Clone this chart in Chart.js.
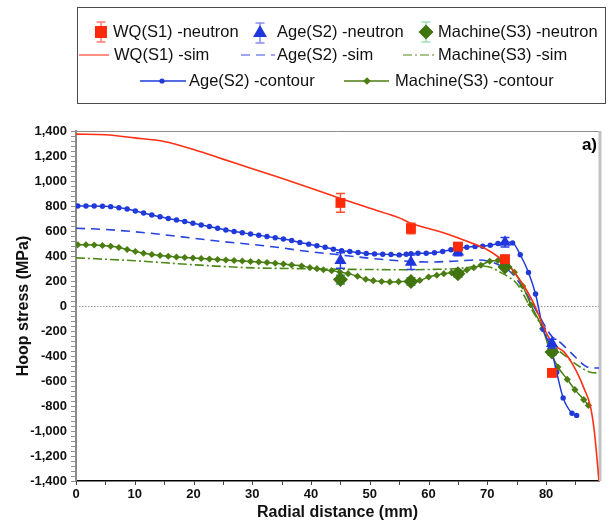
<!DOCTYPE html>
<html>
<head>
<meta charset="utf-8">
<script src="https://cdn.jsdelivr.net/npm/chart.js@4.4.1/dist/chart.umd.min.js"></script>
<style>
  html, body { margin: 0; padding: 0; background: #ffffff; }
  canvas { display: block; }
</style>
</head>
<body>
<canvas id="c" width="613" height="522"></canvas>
<script>
// ---- Neutron diffraction measurements (radial distance in mm, hoop stress in MPa)
const neutronX = [45, 57, 65, 73, 81];
const wqNeutron = [825, 620, 475, 375, -535];
const wqNeutronErr = [75, 42, 20, 25, 20];
const ageNeutron = [365, 350, 432, 510, -300];
const ageNeutronErr = [62, 58, 30, 38, 35];
const machineNeutron = [212, 196, 258, 312, -368];
const machineNeutronErr = [35, 30, 28, 20, 25];

// ---- Simulated hoop stress profiles
const wqSimX = [0, 5, 10, 15, 20, 25, 30, 35, 40, 45, 50, 55, 57, 60, 62.5, 65, 67, 70, 72, 73.5, 75, 76.5, 78, 79.5, 80.5, 81.5, 83, 84.5, 85.5, 86.5, 87.5, 88.2, 89];
const wqSimY = [1375, 1370, 1345, 1316, 1252, 1175, 1098, 1022, 942, 860, 782, 705, 662, 620, 586, 545, 510, 450, 388, 330, 245, 140, 10, -160, -255, -318, -365, -465, -555, -665, -795, -1000, -1400];

const ageSimX = [0, 5, 10, 15, 20, 25, 30, 35, 38, 45, 50, 55, 60, 65, 68, 70, 72, 73.5, 75, 76.5, 78, 80, 81, 82, 83.5, 85, 86.5, 87.5, 89];
const ageSimY = [622, 612, 594, 570, 542, 515, 492, 465, 445, 408, 382, 362, 352, 360, 368, 360, 328, 290, 215, 110, -10, -175, -245, -275, -340, -410, -475, -495, -496];

const machineSimX = [0, 10, 20, 30, 38, 45, 50, 55, 60, 65, 68.8, 70.5, 72.2, 73.5, 75, 77.3, 79, 81, 83.5, 85.8, 87.5, 89];
const machineSimY = [385, 362, 330, 305, 299, 294, 292, 290, 292, 300, 318, 310, 270, 235, 180, -8, -141, -300, -408, -488, -530, -536];

// ---- Contour method profiles
const ageContourX = [0.3, 1.7, 3.1, 4.5, 5.9, 7.3, 8.7, 10.1, 11.5, 12.9, 14.3, 15.7, 17.1, 18.5, 19.9, 21.3, 22.7, 24.1, 25.5, 26.9, 28.3, 29.7, 31.1, 32.5, 33.9, 35.3, 36.7, 38.1, 39.6, 41.0, 42.4, 43.8, 45.2, 46.6, 48.0, 49.4, 50.8, 52.2, 53.6, 55.0, 56.2, 57.0, 58.2, 59.6, 61.0, 62.4, 63.8, 65.2, 66.5, 67.9, 69.2, 70.5, 71.8, 73.0, 74.3, 75.6, 77.0, 78.2, 79.5, 80.8, 81.8, 82.9, 84.4, 85.2];
const ageContourY = [800, 800, 800, 798, 795, 786, 776, 760, 744, 728, 714, 700, 688, 676, 662, 648, 636, 622, 608, 596, 586, 576, 566, 556, 546, 536, 524, 508, 495, 482, 470, 455, 442, 436, 428, 420, 417, 414, 412, 409, 414, 419, 422, 422, 426, 436, 450, 462, 470, 476, 478, 486, 500, 512, 505, 410, 268, 96, -185, -330, -530, -735, -858, -875];

const machineContourX = [0.3, 1.7, 3.1, 4.5, 5.9, 7.3, 8.7, 10.1, 11.5, 12.9, 14.3, 15.7, 17.1, 18.5, 19.9, 21.3, 22.7, 24.1, 25.5, 26.9, 28.3, 29.7, 31.1, 32.5, 33.9, 35.3, 36.7, 38.4, 39.8, 41.0, 42.1, 43.5, 44.9, 46.3, 47.9, 49.3, 50.6, 52.0, 53.4, 54.9, 57.2, 58.5, 60.0, 61.4, 62.6, 63.9, 65.4, 66.5, 67.7, 68.9, 70.4, 71.8, 73.2, 74.6, 76.0, 77.4, 79.4, 80.7, 82.0, 83.6, 84.9, 86.4, 87.2];
const machineContourY = [490, 490, 488, 484, 478, 468, 452, 436, 422, 412, 404, 398, 392, 388, 384, 380, 376, 372, 368, 364, 360, 356, 352, 348, 342, 336, 328, 320, 307, 299, 290, 283, 272, 259, 238, 214, 203, 196, 193, 195, 200, 205, 232, 246, 259, 267, 272, 288, 307, 326, 358, 364, 345, 270, 160, 10, -181, -360, -488, -587, -669, -749, -795];

// ---- Axis tick values
const xTicks = [0, 10, 20, 30, 40, 50, 60, 70, 80];
const yTicks = [-1400, -1200, -1000, -800, -600, -400, -200, 0, 200, 400, 600, 800, 1000, 1200, 1400];

const FONT = "'Liberation Sans', Arial, Helvetica, sans-serif";
const pts = (xs, ys) => xs.map((x, i) => ({ x: x, y: ys[i] }));

const RED = '#ff2a0a';
const BLUE = '#1f36dc';
const GREEN = '#41730f';

// Error bars, zero reference line, plot frame, minor ticks, panel tag and legend
const decor = {
  id: 'decor',
  beforeDatasetsDraw(chart) {
    const { ctx, chartArea: a, scales: { y } } = chart;
    ctx.save();
    const y0 = Math.round(y.getPixelForValue(0)) + 0.5;
    ctx.strokeStyle = '#9a9a9a';
    ctx.lineWidth = 1;
    ctx.setLineDash([1.5, 1.5]);
    ctx.beginPath(); ctx.moveTo(a.left, y0); ctx.lineTo(a.right, y0); ctx.stroke();
    ctx.setLineDash([]);
    ctx.strokeStyle = '#8c8c8c';
    ctx.beginPath(); ctx.moveTo(a.left, a.top + 0.5); ctx.lineTo(a.right, a.top + 0.5); ctx.stroke();
    ctx.strokeStyle = '#c2c2c2';
    ctx.lineWidth = 3;
    ctx.beginPath(); ctx.moveTo(a.right + 1, a.top); ctx.lineTo(a.right + 1, a.bottom); ctx.stroke();
    ctx.restore();
  },
  beforeDatasetDraw(chart, args) {
    const ds = chart.data.datasets[args.index];
    if (!ds.errors) return;
    const { ctx, scales: { x, y } } = chart;
    ctx.save();
    ctx.strokeStyle = ds.errColor;
    ctx.lineWidth = 1.5;
    ds.data.forEach((p, i) => {
      const px = x.getPixelForValue(p.x);
      const top = y.getPixelForValue(p.y + ds.errors[i]);
      const bot = y.getPixelForValue(p.y - ds.errors[i]);
      ctx.beginPath();
      ctx.moveTo(px, top); ctx.lineTo(px, bot);
      ctx.moveTo(px - 4.5, top); ctx.lineTo(px + 4.5, top);
      ctx.moveTo(px - 4.5, bot); ctx.lineTo(px + 4.5, bot);
      ctx.stroke();
    });
    ctx.restore();
  },
  afterDraw(chart) {
    const { ctx, chartArea: a, scales: { x, y } } = chart;
    ctx.save();
    // minor tick marks
    ctx.lineWidth = 1;
    ctx.strokeStyle = '#8f8f8f';
    for (let v = -1400; v <= 1400; v += 40) {
      const py = Math.round(y.getPixelForValue(v)) + 0.5;
      ctx.beginPath(); ctx.moveTo(a.left - 5, py); ctx.lineTo(a.left - 1, py); ctx.stroke();
    }
    ctx.strokeStyle = '#444';
    for (let v = 0; v <= 85; v += 5) {
      const px = Math.round(x.getPixelForValue(v)) + 0.5;
      ctx.beginPath(); ctx.moveTo(px, a.bottom); ctx.lineTo(px, a.bottom + 4); ctx.stroke();
    }
    // panel tag
    ctx.fillStyle = '#000';
    ctx.font = 'bold 17px ' + FONT;
    ctx.textAlign = 'right';
    ctx.textBaseline = 'alphabetic';
    ctx.fillText('a)', a.right - 2, a.top + 19);

    // legend frame
    ctx.strokeStyle = '#4a4a4a';
    ctx.lineWidth = 1;
    ctx.strokeRect(77.5, 7.5, 528, 96);

    const ds = chart.data.datasets;
    ctx.font = '16.5px ' + FONT;
    ctx.textAlign = 'left';
    ctx.textBaseline = 'middle';
    const label = (t, tx, ty) => { ctx.fillStyle = '#111'; ctx.fillText(t, tx, ty); };
    const marker = (d, cx, cy, r, errCol) => {
      ctx.strokeStyle = errCol; ctx.lineWidth = 1.5;
      ctx.beginPath();
      ctx.moveTo(cx, cy - 10); ctx.lineTo(cx, cy + 10);
      ctx.moveTo(cx - 4.5, cy - 10); ctx.lineTo(cx + 4.5, cy - 10);
      ctx.moveTo(cx - 4.5, cy + 10); ctx.lineTo(cx + 4.5, cy + 10);
      ctx.stroke();
      ctx.fillStyle = d.backgroundColor;
      Chart.helpers.drawPoint(ctx, { pointStyle: d.pointStyle, radius: r, rotation: 0, borderWidth: 0 }, cx, cy);
    };
    const seg = (d, x1, x2, cy, col) => {
      ctx.strokeStyle = col; ctx.lineWidth = 1.5;
      ctx.setLineDash(d.borderDash || []);
      ctx.beginPath(); ctx.moveTo(x1, cy); ctx.lineTo(x2, cy); ctx.stroke();
      ctx.setLineDash([]);
    };
    // row 1: measurements
    marker(ds[0], 101, 32, 8.5, '#ff7a70');
    label(ds[0].label, 113, 32);
    marker(ds[1], 260, 33, 8, '#8a8af0');
    label(ds[1].label, 277, 32);
    marker(ds[2], 426, 32, 7.5, '#9fe0b4');
    label(ds[2].label, 438, 32);
    // row 2: simulations
    seg(ds[3], 79, 109, 55, '#ff6a5a');
    label(ds[3].label, 114, 55);
    seg(ds[4], 241, 275, 55, '#7f86ea');
    label(ds[4].label, 277, 55);
    seg(ds[5], 403, 435, 55, '#8fae6a');
    label(ds[5].label, 438, 55);
    // row 3: contour method
    seg(ds[6], 140, 186, 81, ds[6].borderColor);
    ctx.fillStyle = ds[6].backgroundColor;
    Chart.helpers.drawPoint(ctx, { pointStyle: 'circle', radius: 2.6, rotation: 0, borderWidth: 0 }, 162, 81);
    label(ds[6].label, 189, 81);
    seg(ds[7], 344, 389, 81, ds[7].borderColor);
    ctx.fillStyle = ds[7].backgroundColor;
    Chart.helpers.drawPoint(ctx, { pointStyle: 'rectRot', radius: 3.8, rotation: 0, borderWidth: 0 }, 367, 81);
    label(ds[7].label, 395, 81);
    ctx.restore();
  }
};

new Chart(document.getElementById('c'), {
  type: 'scatter',
  data: {
    datasets: [
      { label: 'WQ(S1) -neutron', data: pts(neutronX, wqNeutron), errors: wqNeutronErr, errColor: '#ff4a30',
        pointStyle: 'rect', pointRadius: 7, backgroundColor: RED, borderColor: RED, borderWidth: 0, order: 1 },
      { label: 'Age(S2) -neutron', data: pts(neutronX, ageNeutron), errors: ageNeutronErr, errColor: '#2a3fe0',
        pointStyle: 'triangle', pointRadius: 7, backgroundColor: BLUE, borderColor: BLUE, borderWidth: 0, order: 2 },
      { label: 'Machine(S3) -neutron', data: pts(neutronX, machineNeutron), errors: machineNeutronErr, errColor: '#3c9c74',
        pointStyle: 'rectRot', pointRadius: 7.5, backgroundColor: GREEN, borderColor: GREEN, borderWidth: 0, order: 3 },
      { label: 'WQ(S1) -sim', data: pts(wqSimX, wqSimY), showLine: true, pointRadius: 0,
        borderColor: '#ff3014', borderWidth: 1.6, cubicInterpolationMode: 'monotone', order: 4 },
      { label: 'Age(S2) -sim', data: pts(ageSimX, ageSimY), showLine: true, pointRadius: 0,
        borderColor: '#2744e0', borderWidth: 1.6, borderDash: [9, 6], cubicInterpolationMode: 'monotone', order: 7 },
      { label: 'Machine(S3) -sim', data: pts(machineSimX, machineSimY), showLine: true, pointRadius: 0,
        borderColor: '#4e8a18', borderWidth: 1.6, borderDash: [9, 3, 2, 3], cubicInterpolationMode: 'monotone', order: 8 },
      { label: 'Age(S2) -contour', data: pts(ageContourX, ageContourY), showLine: true,
        pointStyle: 'circle', pointRadius: 2.7, borderColor: '#1f3ad8', backgroundColor: '#1f3ad8', borderWidth: 1.5,
        pointBorderWidth: 0, cubicInterpolationMode: 'monotone', order: 5 },
      { label: 'Machine(S3) -contour', data: pts(machineContourX, machineContourY), showLine: true,
        pointStyle: 'rectRot', pointRadius: 3.6, borderColor: '#4a7d12', backgroundColor: '#4a7d12', borderWidth: 1.5,
        pointBorderWidth: 0, cubicInterpolationMode: 'monotone', order: 6 }
    ]
  },
  options: {
    responsive: false,
    animation: false,
    events: [],
    devicePixelRatio: 1,
    layout: { padding: { top: 131, right: 14, left: 0, bottom: 0 } },
    plugins: { legend: { display: false }, tooltip: { enabled: false } },
    scales: {
      x: {
        type: 'linear', min: 0, max: 89,
        afterBuildTicks: s => { s.ticks = xTicks.map(v => ({ value: v })); },
        afterFit: s => { s.height = 41; },
        grid: { display: false, drawTicks: true, tickLength: 5 },
        border: { display: true, color: '#000', width: 1.5 },
        ticks: { padding: 1, color: '#111', font: { family: FONT, size: 13, weight: 'bold' } },
        title: { display: true, text: 'Radial distance (mm)', color: '#111', padding: 0,
                 font: { family: FONT, size: 16, weight: 'bold' } }
      },
      y: {
        type: 'linear', min: -1400, max: 1400,
        afterBuildTicks: s => { s.ticks = yTicks.map(v => ({ value: v })); },
        afterFit: s => { s.width = 76; },
        grid: { display: false, drawTicks: true, tickLength: 5 },
        border: { display: true, color: '#8a8a8a', width: 2 },
        ticks: { padding: 4, color: '#111', font: { family: FONT, size: 13, weight: 'bold' },
                 callback: v => v.toLocaleString('en-US') },
        title: { display: true, text: 'Hoop stress (MPa)', color: '#111', padding: { top: 14, bottom: 0 },
                 font: { family: FONT, size: 16, weight: 'bold' } }
      }
    }
  },
  plugins: [decor]
});
</script>
</body>
</html>
